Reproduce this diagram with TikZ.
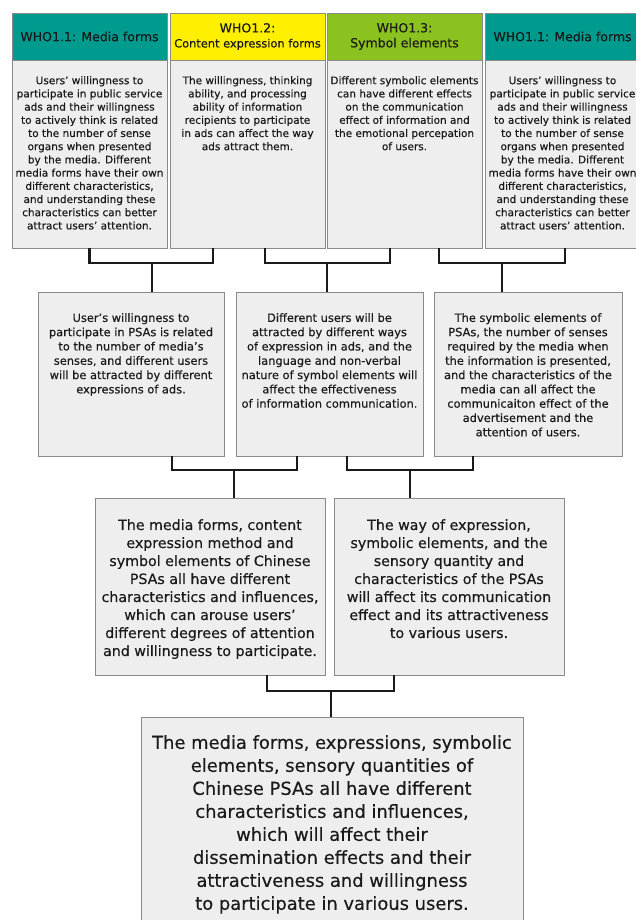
\documentclass[tikz,border=0pt]{standalone}
\usepackage{fontspec}
\setmainfont{DejaVu Sans}[FakeBold=0.35]
\usetikzlibrary{calc}
\definecolor{tealh}{HTML}{009B8F}
\definecolor{yelh}{HTML}{FFEF00}
\definecolor{grnh}{HTML}{8CC21F}
\definecolor{bodyfill}{HTML}{EEEEEE}
\definecolor{edgegray}{HTML}{8A8A8A}
\definecolor{ink}{HTML}{1A1A1A}
\begin{document}
\begin{tikzpicture}[x=1bp,y=-1bp,
  box/.style={draw=edgegray, line width=0.9bp, fill=bodyfill, inner sep=0pt, outer sep=0pt, anchor=north west},
  hdr/.style={draw=edgegray, line width=0.9bp, inner sep=0pt, outer sep=0pt, anchor=north west,
     minimum width=155bp, minimum height=47bp, align=center, text=ink,
     font=\fontsize{12.5bp}{15bp}\selectfont},
  txtA/.style={anchor=north, inner sep=0pt, align=center, text=ink, font=\fontsize{10.5bp}{13.2bp}\selectfont},
  txtB/.style={anchor=north, inner sep=0pt, align=center, text=ink, font=\fontsize{11.4bp}{14.3bp}\selectfont},
  txtC/.style={anchor=north, inner sep=0pt, align=center, text=ink, font=\fontsize{14.2bp}{18bp}\selectfont},
  txtD/.style={anchor=north, inner sep=0pt, align=center, text=ink, font=\fontsize{17.9bp}{23bp}\selectfont},
  conn/.style={draw=ink, line width=2.8bp, line join=miter}
]
\path[use as bounding box] (0,0) rectangle (636,920);
\clip (0,0) rectangle (636,920);
\fill[white] (0,0) rectangle (636,920);

% ---- top row bodies
\node[box, minimum width=155bp, minimum height=188bp] (t1) at (12,60) {};
\node[box, minimum width=155bp, minimum height=188bp] (t2) at (170,60) {};
\node[box, minimum width=155bp, minimum height=188bp] (t3) at (327,60) {};
\node[box, minimum width=155bp, minimum height=188bp] (t4) at (485,60) {};
% ---- headers
\node[hdr, fill=tealh] (h1) at (12,13) {WHO1.1: Media forms};
\node[hdr, fill=yelh] (h2) at (170,13) {WHO1.2:\\{\fontsize{11.4bp}{15bp}\selectfont Content expression forms}};
\node[hdr, fill=grnh] (h3) at (327,13) {WHO1.3:\\Symbol elements};
\node[hdr, fill=tealh] (h4) at (485,13) {WHO1.1: Media forms};
% ---- top texts
\node[txtA] (t1x) at ($(t1.north)+(0,16)$) {Users’ willingness to\\participate in public service\\ads and their willingness\\to actively think is related\\to the number of sense\\organs when presented\\by the media. Different\\media forms have their own\\different characteristics,\\and understanding these\\characteristics can better\\attract users’ attention.};
\node[txtA] (t2x) at ($(t2.north)+(0,16)$) {The willingness, thinking\\ability, and processing\\ability of information\\recipients to participate\\in ads can affect the way\\ads attract them.};
\node[txtA] (t3x) at ($(t3.north)+(0,16)$) {Different symbolic elements\\can have different effects\\on the communication\\effect of information and\\the emotional percepation\\of users.};
\node[txtA] (t4x) at ($(t4.north)+(0,16)$) {Users’ willingness to\\participate in public service\\ads and their willingness\\to actively think is related\\to the number of sense\\organs when presented\\by the media. Different\\media forms have their own\\different characteristics,\\and understanding these\\characteristics can better\\attract users’ attention.};

% ---- middle row
\node[box, minimum width=186bp, minimum height=164bp] (mA) at (38,292) {};
\node[box, minimum width=187bp, minimum height=164bp] (mB) at (236,292) {};
\node[box, minimum width=188bp, minimum height=164bp] (mC) at (434,292) {};
\node[txtB] (mAx) at ($(mA.north)+(0,21)$) {User’s willingness to\\participate in PSAs is related\\to the number  of media’s\\senses, and different users\\will be attracted by different\\expressions of ads.};
\node[txtB] (mBx) at ($(mB.north)+(0,21)$) {Different users will be\\attracted by different ways\\of expression in ads, and the\\language and non-verbal\\nature of symbol elements will\\affect the effectiveness\\of information communication.};
\node[txtB] (mCx) at ($(mC.north)+(0,21)$) {The symbolic elements of\\PSAs, the number of senses\\required  by the media when\\the information is presented,\\and the characteristics of the\\media can all affect the\\communicaiton effect of the\\advertisement and the\\attention of users.};

% ---- third row
\node[box, minimum width=230bp, minimum height=177bp] (bD) at (95,498) {};
\node[box, minimum width=230bp, minimum height=177bp] (bE) at (334,498) {};
\node[txtC] (bDx) at ($(bD.north)+(0,21)$) {The media forms, content\\expression method and\\symbol elements of Chinese\\PSAs all have different\\characteristics and influences,\\which can arouse users’\\different degrees of attention\\and willingness to participate.};
\node[txtC] (bEx) at ($(bE.north)+(0,21)$) {The way of expression,\\symbolic elements, and the\\sensory quantity and\\characteristics of the PSAs\\will affect its communication\\effect and its attractiveness\\to various users.};

% ---- final
\node[box, minimum width=382bp, minimum height=215bp] (fin) at (141,717) {};
\node[txtD] (finx) at ($(fin.north)+(0,18)$) {The media forms, expressions, symbolic\\elements, sensory quantities of\\Chinese PSAs all have different\\characteristics and influences,\\which will affect their\\dissemination effects and their\\attractiveness and willingness\\to participate in various users.};

% ---- connectors
\coordinate (j1) at (152,263);
\coordinate (j2) at (327,263);
\coordinate (j3) at (502,263);
\draw[conn] (t1.south) |- (j1) -| ($(t2.south west)+(43,0)$);
\draw[conn] (j1) -- (j1 |- mA.north);
\draw[conn] ($(t2.south west)+(95,0)$) |- (j2) -| ($(t3.south west)+(63,0)$);
\draw[conn] (j2) -- (j2 |- mB.north);
\draw[conn] ($(t3.south west)+(112,0)$) |- (j3) -| ($(t4.south west)+(80,0)$);
\draw[conn] (j3) -- (j3 |- mC.north);

\coordinate (k1) at (234,470);
\coordinate (k2) at (410,470);
\draw[conn] ($(mA.south west)+(134,0)$) |- (k1) -| ($(mB.south west)+(61,0)$);
\draw[conn] (k1) -- (k1 |- bD.north);
\draw[conn] ($(mB.south west)+(111,0)$) |- (k2) -| ($(mC.south west)+(39,0)$);
\draw[conn] (k2) -- (k2 |- bE.north);

\coordinate (m1) at (331,691);
\draw[conn] ($(bD.south west)+(172,0)$) |- (m1) -| ($(bE.south west)+(60,0)$);
\draw[conn] (m1) -- (m1 |- fin.north);
\end{tikzpicture}
\end{document}
